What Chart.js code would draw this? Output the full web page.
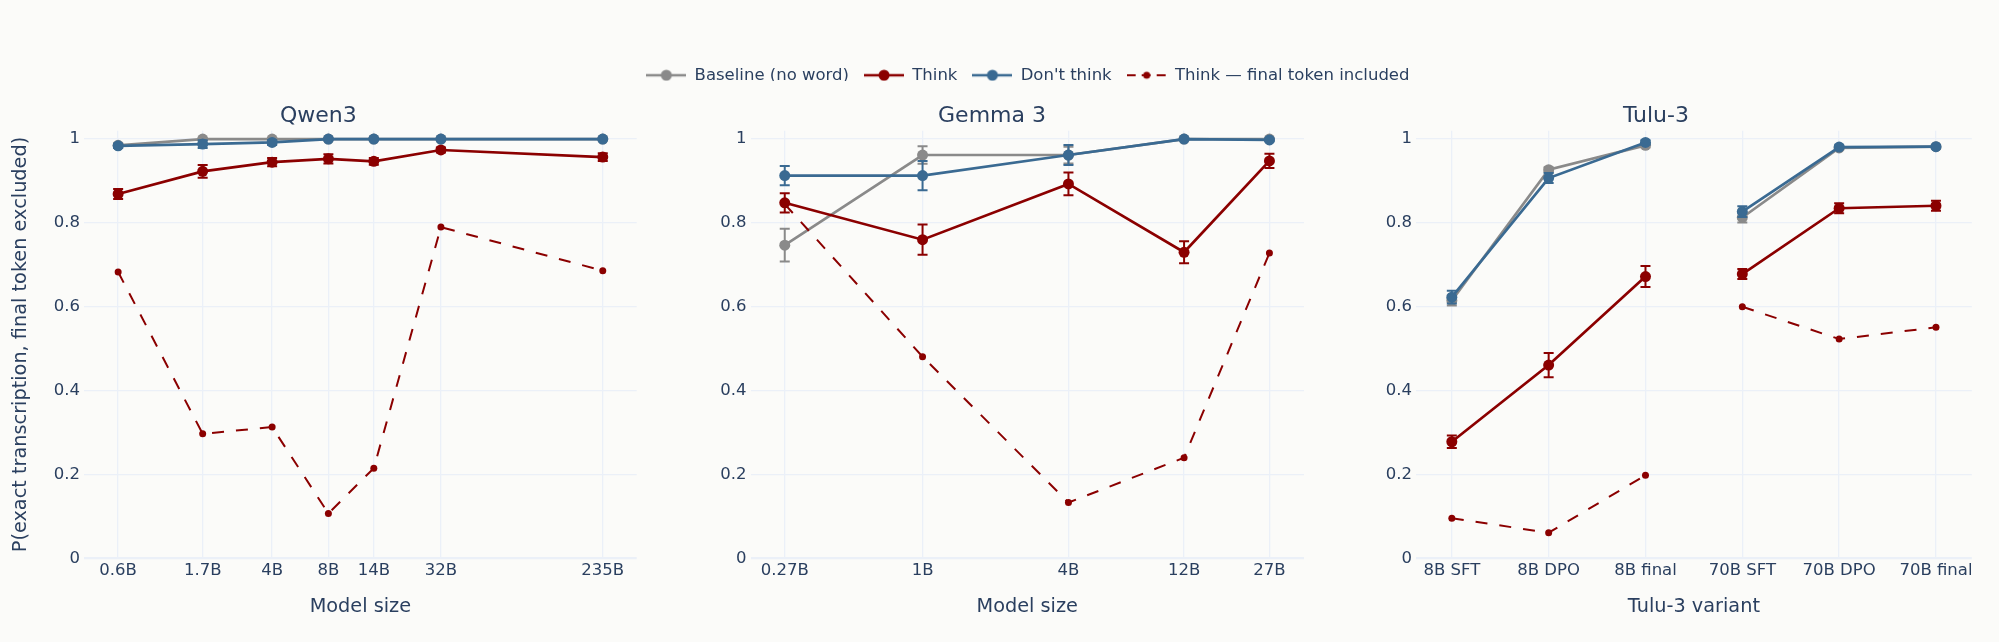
<!DOCTYPE html>
<html>
<head>
<meta charset="utf-8">
<script src="https://cdn.jsdelivr.net/npm/chart.js@4.4.0/dist/chart.umd.min.js"></script>
<style>
  html, body { margin: 0; padding: 0; background: #fbfbf9; }
  #fig { position: relative; width: 1999px; height: 642px; overflow: hidden; }
  .box { position: absolute; top: 0; height: 642px; }
</style>
</head>
<body>
<div id="fig">
  <div class="box" style="left:0;width:660px"><canvas id="qwen"></canvas></div>
  <div class="box" style="left:680px;width:640px"><canvas id="gemma"></canvas></div>
  <div class="box" style="left:1340px;width:659px"><canvas id="tulu"></canvas></div>
  <div class="box" style="left:0;width:1999px;height:110px"><canvas id="legend"></canvas></div>
</div>
<script>
// ---- data ----
const seriesNames = ["Baseline (no word)", "Think", "Don't think", "Think — final token included"];
const yTicks = [0, 0.2, 0.4, 0.6, 0.8, 1];
const yTickLabels = ["0", "0.2", "0.4", "0.6", "0.8", "1"];

// Qwen3 (model size in B params, log axis)
const qwenSizes = [0.6, 1.7, 4, 8, 14, 32, 235];
const qwenLabels = ["0.6B", "1.7B", "4B", "8B", "14B", "32B", "235B"];
const qwenBaseline = [0.985, 1.0, 1.0, 1.0, 1.0, 1.0, 1.0];
const qwenBaselineErr = [0.005, 0, 0, 0, 0, 0, 0];
const qwenThink = [0.869, 0.923, 0.945, 0.953, 0.947, 0.974, 0.957];
const qwenThinkErr = [0.012, 0.015, 0.010, 0.011, 0.008, 0.006, 0.009];
const qwenDont = [0.984, 0.988, 0.992, 1.0, 1.0, 1.0, 1.0];
const qwenDontErr = [0.005, 0.009, 0.006, 0, 0, 0, 0];
const qwenFinal = [0.683, 0.297, 0.313, 0.107, 0.215, 0.790, 0.686];

// Gemma 3
const gemmaSizes = [0.27, 1, 4, 12, 27];
const gemmaLabels = ["0.27B", "1B", "4B", "12B", "27B"];
const gemmaBaseline = [0.747, 0.962, 0.962, 1.0, 1.0];
const gemmaBaselineErr = [0.039, 0.021, 0.020, 0, 0];
const gemmaThink = [0.848, 0.760, 0.893, 0.730, 0.948];
const gemmaThinkErr = [0.023, 0.036, 0.027, 0.026, 0.017];
const gemmaDont = [0.913, 0.913, 0.962, 1.0, 0.998];
const gemmaDontErr = [0.023, 0.035, 0.024, 0, 0.003];
const gemmaFinal = [0.845, 0.481, 0.133, 0.240, 0.728];

// Tulu-3 (categorical variants, two model groups)
const tuluLabels = ["8B SFT", "8B DPO", "8B final", "70B SFT", "70B DPO", "70B final"];
const tuluGroups = ["8B", "8B", "8B", "70B", "70B", "70B"];
const tuluBaseline = [0.615, 0.927, 0.985, 0.813, 0.979, 0.982];
const tuluBaselineErr = [0.012, 0.006, 0.005, 0.012, 0.004, 0.004];
const tuluThink = [0.278, 0.461, 0.672, 0.678, 0.835, 0.841];
const tuluThinkErr = [0.015, 0.029, 0.025, 0.012, 0.012, 0.012];
const tuluDont = [0.623, 0.907, 0.992, 0.827, 0.981, 0.982];
const tuluDontErr = [0.015, 0.012, 0.005, 0.013, 0.004, 0.004];
const tuluFinal = [0.0955, 0.061, 0.198, 0.600, 0.523, 0.551];

// ---- styling ----
const GREY = "#8a8a8a";
const RED = "#8b0000";
const BLUE = "#3a6a92";
const TEXT = "#2a3f5f";
const GRID = "#ebf0f8";

Chart.defaults.font.family = '"DejaVu Sans", Verdana, sans-serif';
Chart.defaults.color = TEXT;
Chart.defaults.animation = false;

// error bars drawn under each dataset, through the y scale
const errorBars = {
  id: "errorBars",
  beforeDatasetDraw(chart, args) {
    const ds = chart.data.datasets[args.index];
    if (!ds.errors) return;
    const yScale = chart.scales.y;
    const ctx = chart.ctx;
    ctx.save();
    ctx.strokeStyle = ds.borderColor;
    ctx.lineWidth = 2;
    args.meta.data.forEach((pt, i) => {
      const e = ds.errors[i];
      if (!e) return;
      const v = ds.data[i].y;
      const top = yScale.getPixelForValue(v + e);
      const bot = yScale.getPixelForValue(v - e);
      ctx.beginPath();
      ctx.moveTo(pt.x, top); ctx.lineTo(pt.x, bot);
      ctx.moveTo(pt.x - 5, top); ctx.lineTo(pt.x + 5, top);
      ctx.moveTo(pt.x - 5, bot); ctx.lineTo(pt.x + 5, bot);
      ctx.stroke();
    });
    ctx.restore();
  }
};

function points(xs, ys) {
  return xs.map((x, i) => ({ x: x, y: ys[i] }));
}

function gapSegment(groups) {
  if (!groups) return undefined;
  return { borderColor: c => groups[c.p0DataIndex] !== groups[c.p1DataIndex] ? "rgba(0,0,0,0)" : undefined };
}

function mainSeries(label, xs, ys, errs, color, order, groups) {
  return {
    label: label,
    data: points(xs, ys),
    errors: errs,
    borderColor: color,
    backgroundColor: color,
    borderWidth: 2.7,
    pointRadius: 5.5,
    pointHoverRadius: 5.5,
    pointBorderWidth: 0,
    order: order,
    segment: gapSegment(groups)
  };
}

function finalSeries(xs, ys, groups) {
  return {
    label: seriesNames[3],
    data: points(xs, ys),
    borderColor: RED,
    backgroundColor: RED,
    borderWidth: 2,
    borderDash: [12, 12],
    pointRadius: 3.5,
    pointHoverRadius: 3.5,
    pointBorderWidth: 0,
    order: 1,
    segment: gapSegment(groups)
  };
}

function makePanel(id, p) {
  const xs = p.xs;
  new Chart(document.getElementById(id), {
    type: "line",
    data: {
      datasets: [
        mainSeries(seriesNames[0], xs, p.baseline, p.baselineErr, GREY, 4, p.groups),
        mainSeries(seriesNames[1], xs, p.think, p.thinkErr, RED, 3, p.groups),
        mainSeries(seriesNames[2], xs, p.dont, p.dontErr, BLUE, 2, p.groups),
        finalSeries(xs, p.final, p.groups)
      ]
    },
    options: {
      responsive: true,
      maintainAspectRatio: false,
      events: [],
      layout: { padding: { left: 0, right: p.padRight, top: 0, bottom: 23.7 } },
      plugins: {
        legend: { display: false },
        tooltip: { enabled: false },
        title: {
          display: true,
          text: p.title,
          color: TEXT,
          font: { size: 22, weight: "normal" },
          padding: { top: 103.5, bottom: 0.8 }
        }
      },
      scales: {
        x: {
          type: p.xType,
          min: p.xMin,
          max: p.xMax,
          afterBuildTicks: axis => { axis.ticks = xs.map(v => ({ value: v })); },
          afterFit: s => { s.height = 60; },
          ticks: {
            autoSkip: false,
            maxRotation: 0,
            padding: 3,
            font: { size: 16.5 },
            color: TEXT,
            callback: (value, index) => p.labels[index]
          },
          grid: { color: GRID, lineWidth: 1.3, drawTicks: false },
          border: { display: false },
          title: {
            display: true,
            text: p.xTitle,
            color: TEXT,
            font: { size: 19.3 },
            padding: { top: 0, bottom: 0 }
          }
        },
        y: {
          type: "linear",
          min: 0,
          max: 1.02,
          afterBuildTicks: axis => { axis.ticks = yTicks.map(v => ({ value: v })); },
          afterFit: s => { s.width = p.yAxisWidth; },
          ticks: {
            padding: 4,
            font: { size: 16.5 },
            color: TEXT,
            callback: (value, index) => yTickLabels[index]
          },
          grid: { color: GRID, lineWidth: c => c.tick && c.tick.value === 0 ? 2.2 : 1.3, drawTicks: false },
          border: { display: false },
          title: {
            display: !!p.yTitle,
            text: p.yTitle || "",
            color: TEXT,
            font: { size: 19.3 },
            padding: { top: 9.5, bottom: 0 }
          }
        }
      }
    },
    plugins: [errorBars]
  });
}

makePanel("qwen", {
  title: "Qwen3", xTitle: "Model size",
  yTitle: "P(exact transcription, final token excluded)",
  xType: "logarithmic", xMin: 0.394, xMax: 357,
  xs: qwenSizes, labels: qwenLabels,
  baseline: qwenBaseline, baselineErr: qwenBaselineErr,
  think: qwenThink, thinkErr: qwenThinkErr,
  dont: qwenDont, dontErr: qwenDontErr,
  final: qwenFinal,
  yAxisWidth: 84, padRight: 23.3
});

makePanel("gemma", {
  title: "Gemma 3", xTitle: "Model size",
  xType: "logarithmic", xMin: 0.195, xMax: 37.5,
  xs: gemmaSizes, labels: gemmaLabels,
  baseline: gemmaBaseline, baselineErr: gemmaBaselineErr,
  think: gemmaThink, thinkErr: gemmaThinkErr,
  dont: gemmaDont, dontErr: gemmaDontErr,
  final: gemmaFinal,
  yAxisWidth: 70.5, padRight: 16
});

makePanel("tulu", {
  title: "Tulu-3", xTitle: "Tulu-3 variant",
  xType: "linear", xMin: -0.37, xMax: 5.37,
  xs: tuluLabels.map((l, i) => i), labels: tuluLabels, groups: tuluGroups,
  baseline: tuluBaseline, baselineErr: tuluBaselineErr,
  think: tuluThink, thinkErr: tuluThinkErr,
  dont: tuluDont, dontErr: tuluDontErr,
  final: tuluFinal,
  yAxisWidth: 76, padRight: 27.2
});

// legend icons: short line with a marker in the middle
function legendIcon(color, lineWidth, radius, dash) {
  const c = document.createElement("canvas");
  c.width = 40; c.height = 14;
  const ctx = c.getContext("2d");
  ctx.strokeStyle = color;
  ctx.fillStyle = color;
  ctx.lineWidth = lineWidth;
  if (dash) { ctx.setLineDash(dash); }
  ctx.beginPath();
  ctx.moveTo(0, 7); ctx.lineTo(40, 7);
  ctx.stroke();
  ctx.beginPath();
  ctx.arc(20, 7, radius, 0, Math.PI * 2);
  ctx.fill();
  return c;
}

const legendColors = [GREY, RED, BLUE, RED];
const legendIcons = [
  legendIcon(GREY, 2.7, 5.5),
  legendIcon(RED, 2.7, 5.5),
  legendIcon(BLUE, 2.7, 5.5),
  legendIcon(RED, 2, 3.5, [9, 6])
];

new Chart(document.getElementById("legend"), {
  type: "line",
  data: {
    datasets: seriesNames.map((name, i) => ({ label: name, data: [], borderColor: legendColors[i] }))
  },
  options: {
    responsive: true,
    maintainAspectRatio: false,
    events: [],
    layout: { padding: { top: 52, left: 84, right: 27.2 } },
    scales: { x: { display: false }, y: { display: false } },
    plugins: {
      tooltip: { enabled: false },
      legend: {
        display: true,
        position: "top",
        labels: {
          usePointStyle: true,
          pointStyleWidth: 40,
          padding: 15,
          color: TEXT,
          font: { size: 16.5 },
          generateLabels: chart => chart.data.datasets.map((ds, i) => ({
            text: ds.label,
            pointStyle: legendIcons[i],
            fillStyle: "rgba(0,0,0,0)",
            strokeStyle: "rgba(0,0,0,0)",
            lineWidth: 0,
            fontColor: TEXT,
            hidden: false,
            datasetIndex: i
          }))
        }
      }
    }
  }
});
</script>
</body>
</html>
